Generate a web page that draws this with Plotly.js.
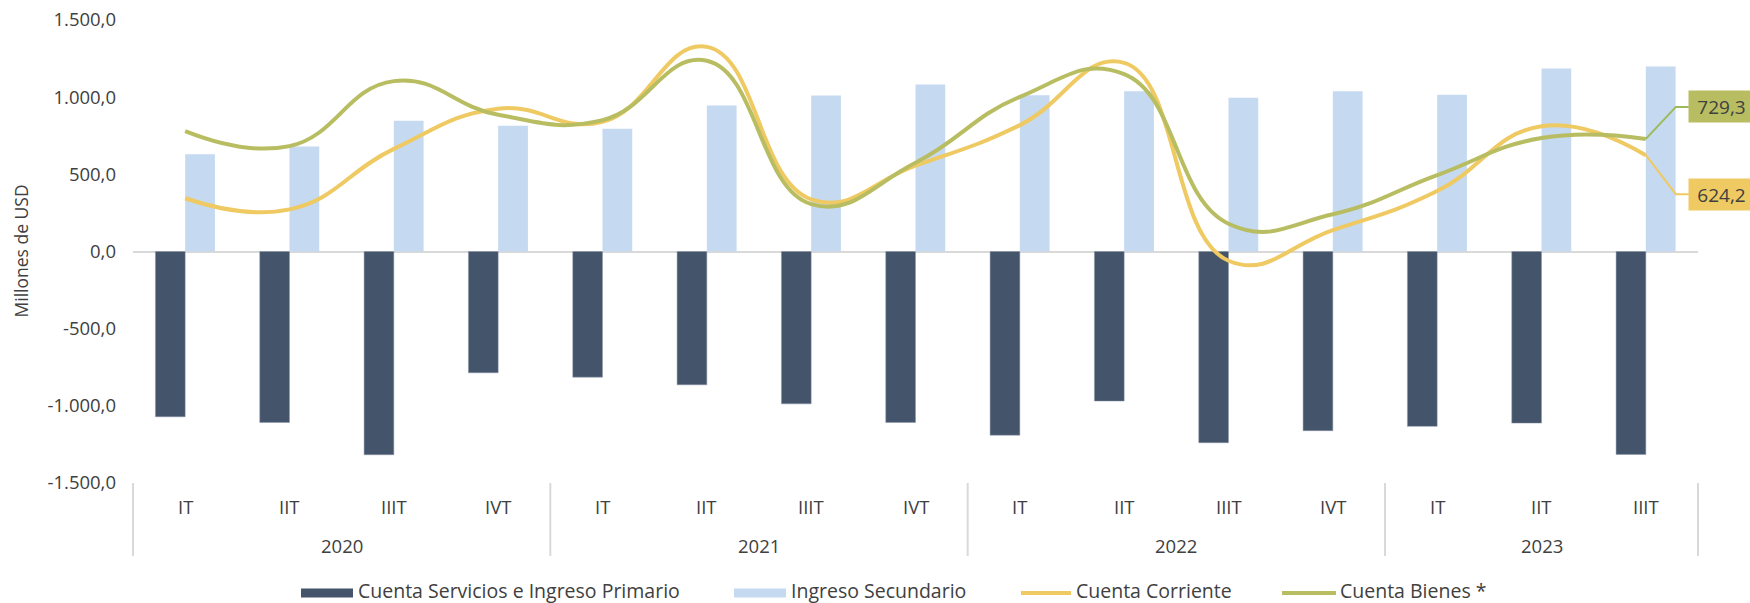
<!DOCTYPE html>
<html>
<head>
<meta charset="utf-8">
<script src="https://cdn.plot.ly/plotly-3.0.1.min.js"></script>
<style>
  html, body { margin: 0; padding: 0; background: #ffffff; }
  #chart { width: 1750px; height: 603px; }
</style>
</head>
<body>
<div id="chart"></div>
<script>
// ---- Data ----
const years = ['2020','2020','2020','2020','2021','2021','2021','2021','2022','2022','2022','2022','2023','2023','2023'];
const quarters = ['IT','IIT','IIIT','IVT','IT','IIT','IIIT','IVT','IT','IIT','IIIT','IVT','IT','IIT','IIIT'];
const serviciosPrimario = [-1071, -1108, -1317, -786, -814, -864, -987, -1108, -1190, -969, -1239, -1161, -1133, -1112, -1315];
const ingresoSecundario = [630, 680, 848, 815, 795, 946, 1010, 1082, 1012, 1038, 997, 1038, 1015, 1185, 1198];
const cuentaCorriente = [345, 273, 665, 925, 840, 1326, 338, 556, 819, 1222, -60, 139, 392, 812, 624.2];
const cuentaBienes = [780, 683, 1104, 886, 851, 1236, 307, 575, 1002, 1150, 180, 241, 495, 735, 729.3];
const seriesNames = ['Cuenta Servicios e Ingreso Primario', 'Ingreso Secundario', 'Cuenta Corriente', 'Cuenta Bienes *'];
const yTickVals = [-1500, -1000, -500, 0, 500, 1000, 1500];
const yTickText = ['-1.500,0', '-1.000,0', '-500,0', '0,0', '500,0', '1.000,0', '1.500,0'];
const yTitle = 'Millones de USD';

// ---- Styles ----
const C_DARK = '#44546A';
const C_LIGHT = '#C5D9F0';
const C_YEL = '#EFC962';
const C_GRN = '#B9BD62';
const C_GRN_LEADER = '#9BBB59';
const C_DIV = '#D9D9D9';
const TXT = '#404040';
const FONT = 'Open Sans, Lato, sans-serif';

const W = 1750, H = 603;
const M = {l: 133, r: 52, t: 20, b: 120};
const PW = W - M.l - M.r, PH = H - M.t - M.b;
const px2x = x => (x - M.l) / PW;
const py2y = y => (H - M.b - y) / PH;

const xCat = [years, quarters];
const SMOOTH = 1.3;

const traces = [
  {type: 'bar', name: seriesNames[0], x: xCat, y: serviciosPrimario,
   marker: {color: C_DARK, line: {color: '#8A96A8', width: 0.5}}, hoverinfo: 'y'},
  {type: 'bar', name: seriesNames[1], x: xCat, y: ingresoSecundario,
   marker: {color: C_LIGHT}, hoverinfo: 'y'},
  {type: 'scatter', mode: 'lines', name: seriesNames[2], x: xCat, y: cuentaCorriente,
   line: {color: C_YEL, width: 4, shape: 'spline', smoothing: SMOOTH}},
  {type: 'scatter', mode: 'lines', name: seriesNames[3], x: xCat, y: cuentaBienes,
   line: {color: C_GRN, width: 4, shape: 'spline', smoothing: SMOOTH}}
];

const n = quarters.length;
const catX = i => (i + 0.5) / n;
const lastX = catX(n - 1);
const fmt = v => v.toFixed(1).replace('.', ',');

const shapes = [];
const annotations = [];

// Category (quarter) labels
quarters.forEach((q, i) => {
  annotations.push({xref: 'paper', yref: 'paper', x: catX(i), y: py2y(506),
    xanchor: 'center', yanchor: 'middle', text: q, showarrow: false,
    font: {family: FONT, size: 18.5, color: TXT}});
});
// Year group labels and dividers
const groups = [];
years.forEach((y, i) => {
  const g = groups[groups.length - 1];
  if (g && g.name === y) g.end = i; else groups.push({name: y, start: i, end: i});
});
const divX = [];
groups.forEach((g, k) => {
  annotations.push({xref: 'paper', yref: 'paper', x: (g.start + g.end + 1) / 2 / n, y: py2y(545),
    xanchor: 'center', yanchor: 'middle', text: g.name, showarrow: false,
    font: {family: FONT, size: 18.5, color: TXT}});
  if (k === 0) divX.push(g.start / n);
  divX.push((g.end + 1) / n);
});
divX.forEach(dx => {
  shapes.push({type: 'line', xref: 'paper', yref: 'paper', x0: dx, x1: dx,
    y0: py2y(483), y1: py2y(556), line: {color: C_DIV, width: 2}});
});

// Data labels for last points with elbow leaders
const labelDefs = [
  {val: cuentaBienes[n - 1], box: C_GRN, lead: C_GRN_LEADER, dy: 32},
  {val: cuentaCorriente[n - 1], box: C_YEL, lead: C_YEL, dy: -39}
];
labelDefs.forEach(d => {
  shapes.push({
    type: 'path', xref: 'paper', yref: 'y', xsizemode: 'pixel', ysizemode: 'pixel',
    xanchor: lastX, yanchor: d.val,
    path: 'M0,0 L30,' + d.dy + ' L43,' + d.dy,
    line: {color: d.lead, width: 2}, layer: 'above'
  });
  annotations.push({
    xref: 'paper', yref: 'y', x: lastX, y: d.val, xanchor: 'left', yanchor: 'middle',
    xshift: 42, yshift: d.dy, text: fmt(d.val), showarrow: false,
    bgcolor: d.box, width: 57, height: 23, borderpad: 4, align: 'center',
    font: {family: FONT, size: 19, color: TXT}
  });
});

// Y axis title
annotations.push({xref: 'paper', yref: 'paper', x: px2x(20), y: 0.5, xanchor: 'center', yanchor: 'middle',
  text: yTitle, textangle: -90, showarrow: false, font: {family: FONT, size: 17.5, color: TXT}});

// Custom legend
const legY = 591;
const legItems = [
  {kind: 'rect', color: C_DARK, x0: 301, x1: 353, tx: 357, text: seriesNames[0]},
  {kind: 'rect', color: C_LIGHT, x0: 734, x1: 786, tx: 790, text: seriesNames[1]},
  {kind: 'line', color: C_YEL, x0: 1021, x1: 1071, tx: 1075, text: seriesNames[2]},
  {kind: 'line', color: C_GRN, x0: 1282, x1: 1336, tx: 1339, text: seriesNames[3]}
];
legItems.forEach(it => {
  if (it.kind === 'rect') {
    shapes.push({type: 'rect', xref: 'paper', yref: 'paper',
      x0: px2x(it.x0), x1: px2x(it.x1), y0: py2y(legY + 2 - 4.5), y1: py2y(legY + 2 + 4.5),
      fillcolor: it.color, line: {width: 0}});
  } else {
    shapes.push({type: 'line', xref: 'paper', yref: 'paper',
      x0: px2x(it.x0), x1: px2x(it.x1), y0: py2y(legY + 2), y1: py2y(legY + 2),
      line: {color: it.color, width: 4}});
  }
  annotations.push({xref: 'paper', yref: 'paper', x: px2x(it.tx), y: py2y(legY - 1),
    xanchor: 'left', yanchor: 'middle', text: it.text, showarrow: false, borderpad: 0,
    font: {family: FONT, size: 19.5, color: TXT}});
});

const layout = {
  width: W, height: H,
  margin: M,
  paper_bgcolor: '#ffffff', plot_bgcolor: '#ffffff',
  font: {family: FONT, size: 18, color: TXT},
  barmode: 'group', bargap: 0.43, bargroupgap: 0,
  showlegend: false,
  xaxis: {
    type: 'multicategory',
    showgrid: false, zeroline: false, showline: false, ticks: '',
    showticklabels: false, showdividers: false
  },
  yaxis: {
    range: [-1500, 1500],
    tickmode: 'array', tickvals: yTickVals, ticktext: yTickText,
    showgrid: false, zeroline: true, zerolinecolor: C_DIV, zerolinewidth: 2,
    showline: false, ticks: '', ticklabelstandoff: 16,
    tickfont: {family: FONT, size: 18.5, color: TXT}
  },
  shapes: shapes,
  annotations: annotations
};

Plotly.newPlot('chart', traces, layout, {displayModeBar: false, responsive: false});
</script>
</body>
</html>
